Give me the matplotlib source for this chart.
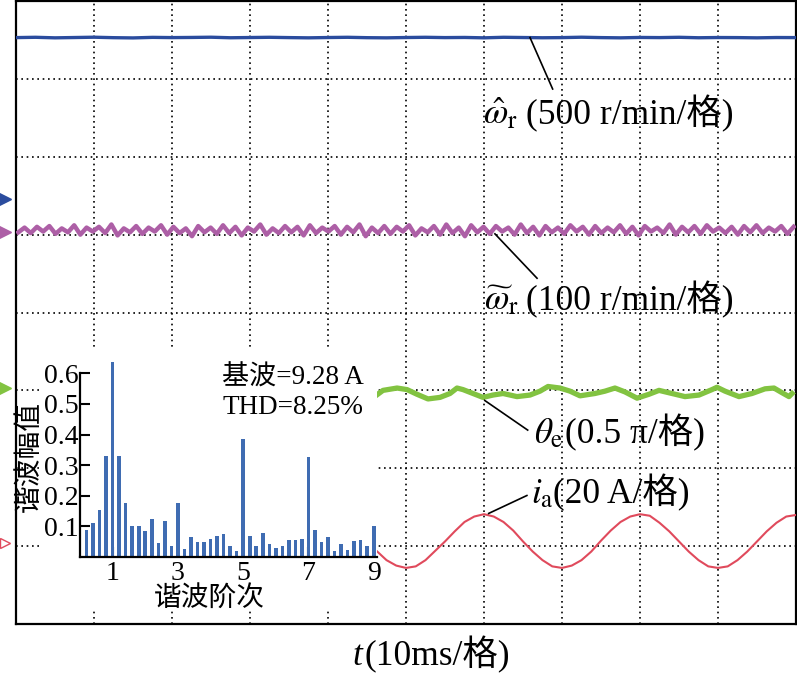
import numpy as np
import matplotlib
matplotlib.use("Agg")
import matplotlib.pyplot as plt
from matplotlib.patches import Rectangle

plt.rcParams['font.family'] = ['Liberation Serif', 'Noto Sans CJK SC']
plt.rcParams['mathtext.fontset'] = 'stix'

# ---------------- data ----------------
# time axis: ms (10 ms / division), vertical: scope divisions (0..8)
blue_v = [7.530, 7.534, 7.527, 7.531, 7.535, 7.529, 7.526, 7.533, 7.530, 7.532,
          7.535, 7.528, 7.531, 7.534, 7.530, 7.527, 7.531, 7.534, 7.529, 7.527,
          7.531, 7.534, 7.530, 7.532, 7.527, 7.534, 7.531, 7.528, 7.530, 7.535,
          7.530, 7.527, 7.532, 7.530, 7.534, 7.528, 7.531, 7.530, 7.527, 7.531, 7.530]

magenta_v = [
    5.03, 5.09, 5.02, 5.10, 5.04, 5.11, 5.01, 5.08, 5.03, 5.12,
    5.00, 5.09, 5.04, 5.10, 5.02, 5.13, 4.99, 5.08, 5.03, 5.11,
    5.01, 5.09, 5.04, 5.12, 5.00, 5.10, 5.02, 5.08, 4.98, 5.11,
    5.03, 5.09, 5.01, 5.12, 5.02, 5.10, 4.99, 5.09, 5.04, 5.13,
    5.00, 5.08, 5.02, 5.11, 5.03, 5.10, 4.99, 5.12, 5.02, 5.09,
    5.04, 5.11, 5.00, 5.10, 5.03, 5.13, 4.98, 5.09, 5.02, 5.11,
    5.01, 5.10, 5.04, 5.12, 4.99, 5.08, 5.03, 5.11, 5.00, 5.13,
    5.02, 5.09, 4.98, 5.12, 5.03, 5.10, 5.01, 5.11, 5.04, 5.09,
    5.00, 5.13, 5.02, 5.10, 4.99, 5.11, 5.03, 5.09, 5.01, 5.12,
    5.04, 5.10, 5.00, 5.11, 5.02, 5.09, 5.03, 5.12, 5.01, 5.10,
    4.99, 5.11, 5.04, 5.09, 5.02, 5.13, 5.00, 5.10, 5.03, 5.11,
    5.01, 5.12, 5.04, 5.09, 5.02, 5.10, 5.00, 5.11, 5.03, 5.12,
    5.02, 5.09, 5.04, 5.11, 5.01, 5.10]

green_t = [46.24, 47.05, 48.85, 50.13, 51.41, 52.82, 54.36, 55.64, 56.54, 57.31,
           58.59, 59.87, 61.15, 62.44, 64.23, 65.90, 67.18, 68.21, 69.74, 71.03,
           72.31, 74.23, 75.51, 76.79, 78.08, 79.62, 81.15, 82.44, 84.10, 85.77,
           87.56, 89.23, 89.87, 90.90, 92.69, 94.36, 96.03, 97.18, 98.21, 99.10, 99.49]
green_v = [2.94, 3.00, 3.03, 3.01, 2.95, 2.89, 2.91, 2.96, 3.03, 3.01,
           2.96, 2.91, 2.94, 2.96, 2.92, 2.94, 2.99, 3.05, 3.03, 2.99,
           2.93, 2.96, 2.99, 3.03, 2.98, 2.90, 2.95, 3.00, 2.96, 2.92,
           2.94, 3.01, 3.04, 2.99, 2.92, 2.96, 3.02, 3.03, 2.97, 2.92, 2.96]

red_t = [46.0, 47.5, 48.75, 50.0, 51.25, 52.5, 53.75, 55.0, 56.25, 57.5, 58.75,
         60.0, 61.25, 62.5, 63.75, 65.0, 66.25, 67.5, 68.75, 70.0, 71.25, 72.5,
         73.75, 75.0, 76.25, 77.5, 78.75, 80.0, 81.25, 82.5, 83.75, 85.0, 86.25,
         87.5, 88.75, 90.0, 91.25, 92.5, 93.75, 95.0, 96.25, 97.5, 98.75, 100.0]
red_v = [0.96, 0.82, 0.75, 0.72, 0.74, 0.82, 0.94, 1.06, 1.19, 1.31, 1.38,
         1.41, 1.38, 1.31, 1.20, 1.06, 0.93, 0.82, 0.74, 0.72, 0.75, 0.82,
         0.93, 1.07, 1.20, 1.31, 1.38, 1.41, 1.39, 1.30, 1.19, 1.06, 0.93,
         0.82, 0.74, 0.72, 0.74, 0.82, 0.93, 1.06, 1.19, 1.30, 1.38, 1.40]

marker_levels = [5.46, 5.03, 3.03, 1.04]   # channel ground markers (div)

harm_order = [0.2, 0.4, 0.6, 0.8, 1.0, 1.2, 1.4, 1.6, 1.8, 2.0,
              2.2, 2.4, 2.6, 2.8, 3.0, 3.2, 3.4, 3.6, 3.8, 4.0,
              4.2, 4.4, 4.6, 4.8, 5.0, 5.2, 5.4, 5.6, 5.8, 6.0,
              6.2, 6.4, 6.6, 6.8, 7.0, 7.2, 7.4, 7.6, 7.8, 8.0,
              8.2, 8.4, 8.6, 8.8, 9.0]
harm_amp = [0.089, 0.111, 0.152, 0.330, 0.638, 0.330, 0.177, 0.102, 0.100, 0.084,
            0.124, 0.046, 0.116, 0.035, 0.178, 0.026, 0.064, 0.048, 0.050, 0.059,
            0.067, 0.076, 0.037, 0.018, 0.385, 0.070, 0.035, 0.078, 0.042, 0.029,
            0.035, 0.057, 0.057, 0.060, 0.326, 0.087, 0.048, 0.064, 0.018, 0.042,
            0.024, 0.051, 0.057, 0.037, 0.100]
harm_xticks = [1, 3, 5, 7, 9]
harm_yticks = [0.1, 0.2, 0.3, 0.4, 0.5, 0.6]

# ---------------- figure ----------------
W, H = 797, 680
fig = plt.figure(figsize=(W / 100, H / 100), dpi=100)

def fx(px):
    return px / W

def fy(py):
    return (H - py) / H

ax = fig.add_axes([fx(16), fy(624), fx(796) - fx(16), fy(1) - fy(624)])
ax.set_xlim(0, 100)
ax.set_ylim(0, 8)
ax.set_xticks(np.arange(0, 101, 10))
ax.set_yticks(np.arange(0, 9, 1))
ax.tick_params(length=0, labelbottom=False, labelleft=False)
ax.grid(True, color='black', linestyle=(0, (1, 2.2)), linewidth=1.2)
for s in ax.spines.values():
    s.set_linewidth(1.6)
    s.set_color('black')

t_blue = np.linspace(0, 100, len(blue_v))
t_mag = np.linspace(0.3, 99.7, len(magenta_v))
ax.plot(t_blue, blue_v, color='#2b4c9e', lw=2.4, zorder=3)
ax.plot(t_mag, magenta_v, color='#ad5fa6', lw=3.2, zorder=3,
        solid_joinstyle='round')
ax.plot(green_t, green_v, color='#82c341', lw=3.8, zorder=3,
        solid_joinstyle='round')
ax.plot(red_t, red_v, color='#e04a5c', lw=1.5, zorder=3)

# channel markers at the left edge
mk_x = -1.45
ax.plot([mk_x], [marker_levels[0]], marker='>', color='#2b4c9e', ms=8, clip_on=False)
ax.plot([mk_x], [marker_levels[1]], marker='>', color='#ad5fa6', ms=8, clip_on=False)
ax.plot([mk_x], [marker_levels[2]], marker='>', color='#82c341', ms=8, clip_on=False)
ax.plot([mk_x], [marker_levels[3]], marker='>', mfc='white', mec='#e04a5c', ms=7,
        mew=1.0, clip_on=False)

# labels and leader lines
lab_fs = 25.5
ax.plot([65.9, 68.8], [7.53, 6.87], color='black', lw=1.2, zorder=4)
ax.text(59.9, 6.42, r'$\hat{\omega}_{\mathrm{r}}$', fontsize=lab_fs, ha='left', va='baseline')
ax.text(65.4, 6.42, '(500 r/min/格)', fontsize=lab_fs, ha='left', va='baseline')

ax.plot([61.4, 66.8], [5.01, 4.44], color='black', lw=1.2, zorder=4)
ax.text(60.0, 4.03, r'$\widetilde{\omega}_{\mathrm{r}}$', fontsize=lab_fs, ha='left', va='baseline')
ax.text(65.4, 4.03, '(100 r/min/格)', fontsize=lab_fs, ha='left', va='baseline')

ax.plot([60.1, 65.6], [2.87, 2.49], color='black', lw=1.2, zorder=4)
ax.text(66.4, 2.32, r'$\theta_{\mathrm{e}}$', fontsize=lab_fs, ha='left', va='baseline')
ax.text(70.4, 2.32, '(0.5 π/格)', fontsize=lab_fs, ha='left', va='baseline')

ax.plot([60.6, 65.5], [1.42, 1.65], color='black', lw=1.2, zorder=4)
ax.text(66.0, 1.55, r'$i_{\mathrm{a}}$', fontsize=lab_fs, ha='left', va='baseline')
ax.text(68.9, 1.55, '(20 A/格)', fontsize=lab_fs, ha='left', va='baseline')

# bottom axis label
fig.text(fx(352), fy(665), 't', fontsize=lab_fs, style='italic', ha='left', va='baseline')
fig.text(fx(364), fy(665), '(10ms/格)', fontsize=lab_fs, ha='left', va='baseline')

# white backing of inset
fig.patches.append(Rectangle((fx(39), fy(608)), fx(377) - fx(39), fy(348) - fy(608),
                             transform=fig.transFigure, facecolor='white',
                             edgecolor='none', zorder=1))

# ---------------- inset: harmonic spectrum ----------------
ax2 = fig.add_axes([fx(80), fy(557), fx(377) - fx(80), fy(358) - fy(557)], zorder=2)
ax2.patch.set_alpha(0)
ax2.bar(harm_order, harm_amp, width=0.11, color='#3f6cb2', zorder=2)
ax2.set_xlim(0, 9.1)
ax2.set_ylim(0, 0.65)
ax2.set_xticks(harm_xticks)
ax2.set_yticks(harm_yticks)
ax2.set_yticklabels([f'{v:.1f}' for v in harm_yticks])
ax2.tick_params(direction='in', length=7, width=1.5, labelsize=20, pad=1)
ax2.tick_params(axis='x', pad=3)
for side in ['top', 'right']:
    ax2.spines[side].set_visible(False)
for side in ['left', 'bottom']:
    ax2.spines[side].set_linewidth(1.6)
ax2.spines['left'].set_bounds(0, 0.6)
ax2.set_xlabel('谐波阶次', fontsize=20)
ax2.set_ylabel('谐波幅值', fontsize=20)
ax2.xaxis.set_label_coords((209 - 80) / (377 - 80), (557 - 586) / (557 - 358))
ax2.yaxis.set_label_coords((43 - 80) / (377 - 80), (557 - 457) / (557 - 358))

fig.text(fx(222), fy(378), '基波=9.28 A', fontsize=19.5, ha='left', va='center', zorder=5)
fig.text(fx(222), fy(407), 'THD=8.25%', fontsize=19.5, ha='left', va='center', zorder=5)

fig.savefig('out.png', dpi=100)
